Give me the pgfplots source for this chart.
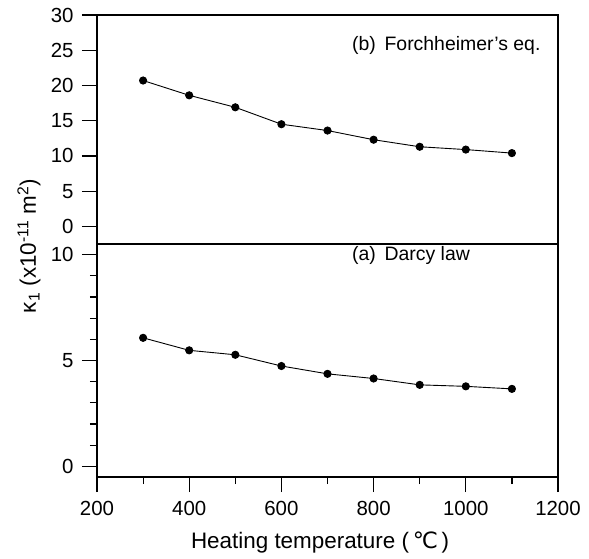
\documentclass[border=0pt]{standalone}
\usepackage{fontspec}
\setmainfont{Liberation Sans}
\newfontfamily\dejavu{DejaVu Sans}
\usepackage{pgfplots}
\pgfplotsset{compat=1.18}
\usepackage{pgfplotstable}

\pgfplotstableread{
T k
300 20.7
400 18.6
500 16.9
600 14.5
700 13.6
800 12.3
900 11.3
1000 10.9
1100 10.4
}\forch
\pgfplotstableread{
T k
300 6.07
400 5.48
500 5.27
600 4.74
700 4.37
800 4.15
900 3.85
1000 3.78
1100 3.66
}\darcy

\pgfplotsset{
  common/.style={
    scale only axis,
    width=461bp,
    anchor=south west,
    xmin=200, xmax=1200,
    tick align=outside,
    major tick length=15bp,
    minor tick length=7bp,
    axis line style={line width=1.5bp},
    every tick/.style={line width=1.2bp, black},
    /pgf/number format/assume math mode=true,
    /pgf/number format/1000 sep={},
    tick label style={font=\fontsize{20.5}{24}\selectfont},
    yticklabel style={xshift=-5bp},
    xticklabel style={yshift=-6bp},
    ytick pos=left,
    clip=false,
  },
  series/.style={black, line width=0.9bp, mark=*, mark size=3.6bp, mark options={fill=black}},
}

\begin{document}
\begin{tikzpicture}
\path[use as bounding box] (0,0) rectangle (589bp,559bp);
% (b) Forchheimer
\begin{axis}[common,
  height=229bp, at={(97bp,315bp)},
  ymin=-2.5, ymax=30,
  ytick={0,5,...,30},
  xtick=\empty,
]
\addplot[series] table[x=T,y=k] {\forch};
\node[anchor=west, font=\fontsize{19.5}{22}\selectfont] at (axis cs:746,25.7) {(b)\ \,Forchheimer's eq.};
\end{axis}
% (a) Darcy
\begin{axis}[common,
  height=233bp, at={(97bp,82bp)},
  ymin=-0.5, ymax=10.5,
  ytick={0,5,10},
  minor ytick={1,2,3,4,6,7,8,9},
  xtick={200,400,...,1200},
  minor xtick={300,500,...,1100},
  xtick pos=bottom,
  xlabel={Heating temperature (\,{\dejavu ℃}\,)},
  xlabel style={at={(axis description cs:0.484,-0.279)}, anchor=center, font=\fontsize{22.5}{26}\selectfont},
  ylabel={κ\textsubscript{1} (x10\textsuperscript{-11} m\textsuperscript{2})},
  ylabel style={at={(axis description cs:-0.1475,0.991)}, anchor=center, font=\fontsize{22.5}{26}\selectfont},
]
\addplot[series] table[x=T,y=k] {\darcy};
\node[anchor=west, font=\fontsize{19.5}{22}\selectfont] at (axis cs:746,9.95) {(a)\ \,Darcy law};
\end{axis}
\end{tikzpicture}
\end{document}
